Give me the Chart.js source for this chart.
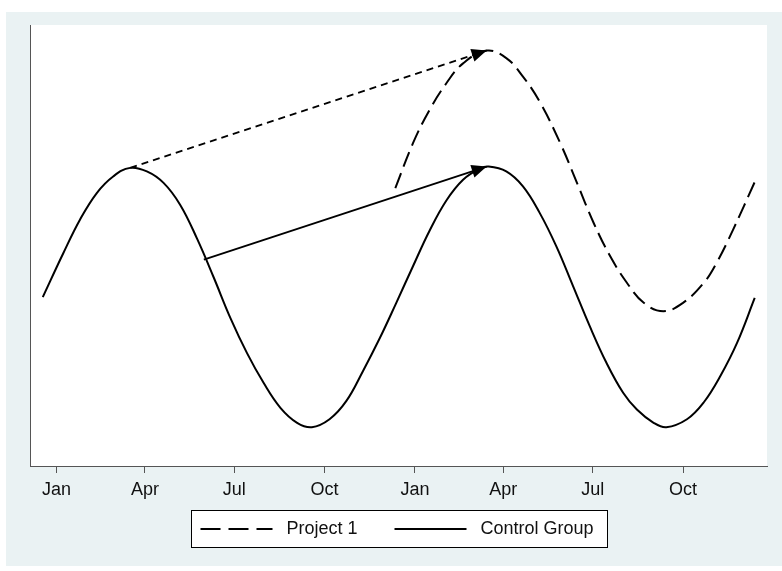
<!DOCTYPE html>
<html><head><meta charset="utf-8">
<script src="https://cdn.jsdelivr.net/npm/chart.js@4.4.1/dist/chart.umd.min.js"></script>
<style>
html,body{margin:0;padding:0;background:#fff;}
#wrap{position:relative;width:782px;height:571px;}
canvas{display:block;}
</style></head><body>
<div id="wrap"><canvas id="c" width="782" height="571"></canvas></div>
<script>
// x values are days counted from 1 January of the first year
const tickDays = [0, 90, 181, 273, 365, 455, 546, 638];
const tickLabels = ['Jan', 'Apr', 'Jul', 'Oct', 'Jan', 'Apr', 'Jul', 'Oct'];
const seriesNames = ['Project 1', 'Control Group'];

const controlDays = [-14, 7, 24, 41, 58, 75, 92, 109, 126, 143, 160, 177, 194, 211, 228, 245, 260, 278, 295, 312, 329, 346, 363, 380, 397, 414, 431, 440, 458, 475, 492, 509, 526, 543, 560, 577, 591, 608, 621, 642, 659, 676, 693, 711];
const controlValues = [38.3, 48.3, 55.9, 61.9, 65.7, 67.6, 66.8, 64.2, 59.2, 51.6, 42.8, 33.6, 25.6, 18.8, 13.2, 9.8, 8.8, 10.6, 14.7, 21.5, 28.9, 37.0, 45.3, 53.4, 60.2, 64.9, 67.4, 67.9, 66.8, 63.4, 57.4, 49.8, 40.8, 31.7, 23.4, 16.6, 12.8, 9.8, 8.8, 10.6, 14.4, 20.4, 27.9, 38.1];

const projectDays = [345, 363, 380, 397, 414, 438, 458, 475, 492, 513, 530, 547, 564, 581, 598, 618, 638, 659, 672, 689, 711];
const projectValues = [63.0, 73.2, 80.8, 86.8, 91.3, 94.2, 92.5, 88.3, 82.6, 73.2, 64.2, 55.1, 47.5, 41.5, 37.0, 35.1, 37.0, 41.5, 46.0, 53.6, 64.4];

const arrowSolidDays = [150, 438];
const arrowSolidValues = [46.8, 67.9];
const arrowDashedDays = [75, 438];
const arrowDashedValues = [67.6, 94.2];

const pts = (xs, ys) => xs.map((x, i) => ({x: x, y: ys[i]}));

const FONT = '"Liberation Sans", Arial, Helvetica, sans-serif';
const BG = 'rgb(234,242,243)';
const AXIS = '#555555';
const CURVE_DASH = [16, 7];

const bgPlugin = {
  id: 'bg',
  beforeDraw(chart) {
    const ctx = chart.ctx, a = chart.chartArea;
    ctx.save();
    ctx.fillStyle = '#ffffff';
    ctx.fillRect(0, 0, chart.width, chart.height);
    ctx.fillStyle = BG;
    ctx.fillRect(6, 12, chart.width - 6, chart.height - 17);
    ctx.fillStyle = '#ffffff';
    ctx.fillRect(a.left, a.top, a.right - a.left, a.bottom - a.top);
    ctx.restore();
  }
};

const arrowPlugin = {
  id: 'arrowHeads',
  afterDatasetsDraw(chart) {
    const ctx = chart.ctx;
    chart.data.datasets.forEach((ds, i) => {
      if (!ds.isArrow) return;
      const meta = chart.getDatasetMeta(i);
      const p0 = meta.data[0], p1 = meta.data[meta.data.length - 1];
      const ang = Math.atan2(p1.y - p0.y, p1.x - p0.x);
      const L = 15, W = 6.5;
      ctx.save();
      ctx.fillStyle = '#000';
      ctx.beginPath();
      ctx.moveTo(p1.x, p1.y);
      ctx.lineTo(p1.x - L * Math.cos(ang) + W * Math.sin(ang), p1.y - L * Math.sin(ang) - W * Math.cos(ang));
      ctx.lineTo(p1.x - L * Math.cos(ang) - W * Math.sin(ang), p1.y - L * Math.sin(ang) + W * Math.cos(ang));
      ctx.closePath();
      ctx.fill();
      ctx.restore();
    });
  }
};

const legendPlugin = {
  id: 'boxLegend',
  afterDraw(chart) {
    const ctx = chart.ctx;
    const a = chart.chartArea;
    const cx = (a.left + a.right) / 2;
    const boxW = 416, boxH = 37;
    const bx = Math.round(cx - boxW / 2) + 0.5, by = Math.round(a.bottom) + 44.5;
    ctx.save();
    ctx.fillStyle = '#fff';
    ctx.fillRect(bx, by, boxW, boxH);
    ctx.strokeStyle = '#000';
    ctx.lineWidth = 1;
    ctx.strokeRect(bx, by, boxW, boxH);
    const yMid = by + boxH / 2;
    ctx.font = '18px ' + FONT;
    ctx.fillStyle = '#111';
    ctx.textBaseline = 'middle';
    const items = [
      {ds: chart.data.datasets[0], x0: bx + 9, dash: [20, 8]},
      {ds: chart.data.datasets[1], x0: bx + 203, dash: []}
    ];
    items.forEach(it => {
      ctx.strokeStyle = '#000';
      ctx.lineWidth = 2;
      ctx.setLineDash(it.dash);
      ctx.beginPath();
      ctx.moveTo(it.x0, yMid);
      ctx.lineTo(it.x0 + 72, yMid);
      ctx.stroke();
      ctx.setLineDash([]);
      ctx.fillText(it.ds.label, it.x0 + 86, yMid);
    });
    ctx.restore();
  }
};

const chart = new Chart(document.getElementById('c'), {
  type: 'line',
  data: {
    datasets: [
      {label: seriesNames[0], data: pts(projectDays, projectValues), borderColor: '#000', borderWidth: 2, borderDash: CURVE_DASH, pointRadius: 0, tension: 0.4, fill: false},
      {label: seriesNames[1], data: pts(controlDays, controlValues), borderColor: '#000', borderWidth: 2, pointRadius: 0, tension: 0.4, fill: false},
      {label: 'arrow1', isArrow: true, data: pts(arrowSolidDays, arrowSolidValues), borderColor: '#000', borderWidth: 1.8, pointRadius: 0, tension: 0, fill: false},
      {label: 'arrow2', isArrow: true, data: pts(arrowDashedDays, arrowDashedValues), borderColor: '#000', borderWidth: 1.8, borderDash: [7, 5], pointRadius: 0, tension: 0, fill: false}
    ]
  },
  options: {
    responsive: false,
    animation: false,
    devicePixelRatio: 1,
    layout: {padding: {left: 30, right: 15, top: 25, bottom: 64.4}},
    plugins: {legend: {display: false}, tooltip: {enabled: false}},
    scales: {
      x: {
        type: 'linear', min: -27, max: 723.5,
        afterBuildTicks: (s) => { s.ticks = tickDays.map(v => ({value: v})); },
        ticks: {
          autoSkip: false, maxRotation: 0, padding: 6, color: '#111',
          font: {family: FONT, size: 18},
          callback: (v, i) => tickLabels[i]
        },
        grid: {display: true, drawOnChartArea: false, drawTicks: true, tickLength: 7, color: AXIS, lineWidth: 1},
        border: {display: true, color: AXIS, width: 1}
      },
      y: {
        type: 'linear', min: 0, max: 100,
        ticks: {display: false},
        grid: {display: false, drawTicks: false},
        border: {display: true, color: AXIS, width: 1}
      }
    }
  },
  plugins: [bgPlugin, arrowPlugin, legendPlugin]
});
</script>
</body></html>
